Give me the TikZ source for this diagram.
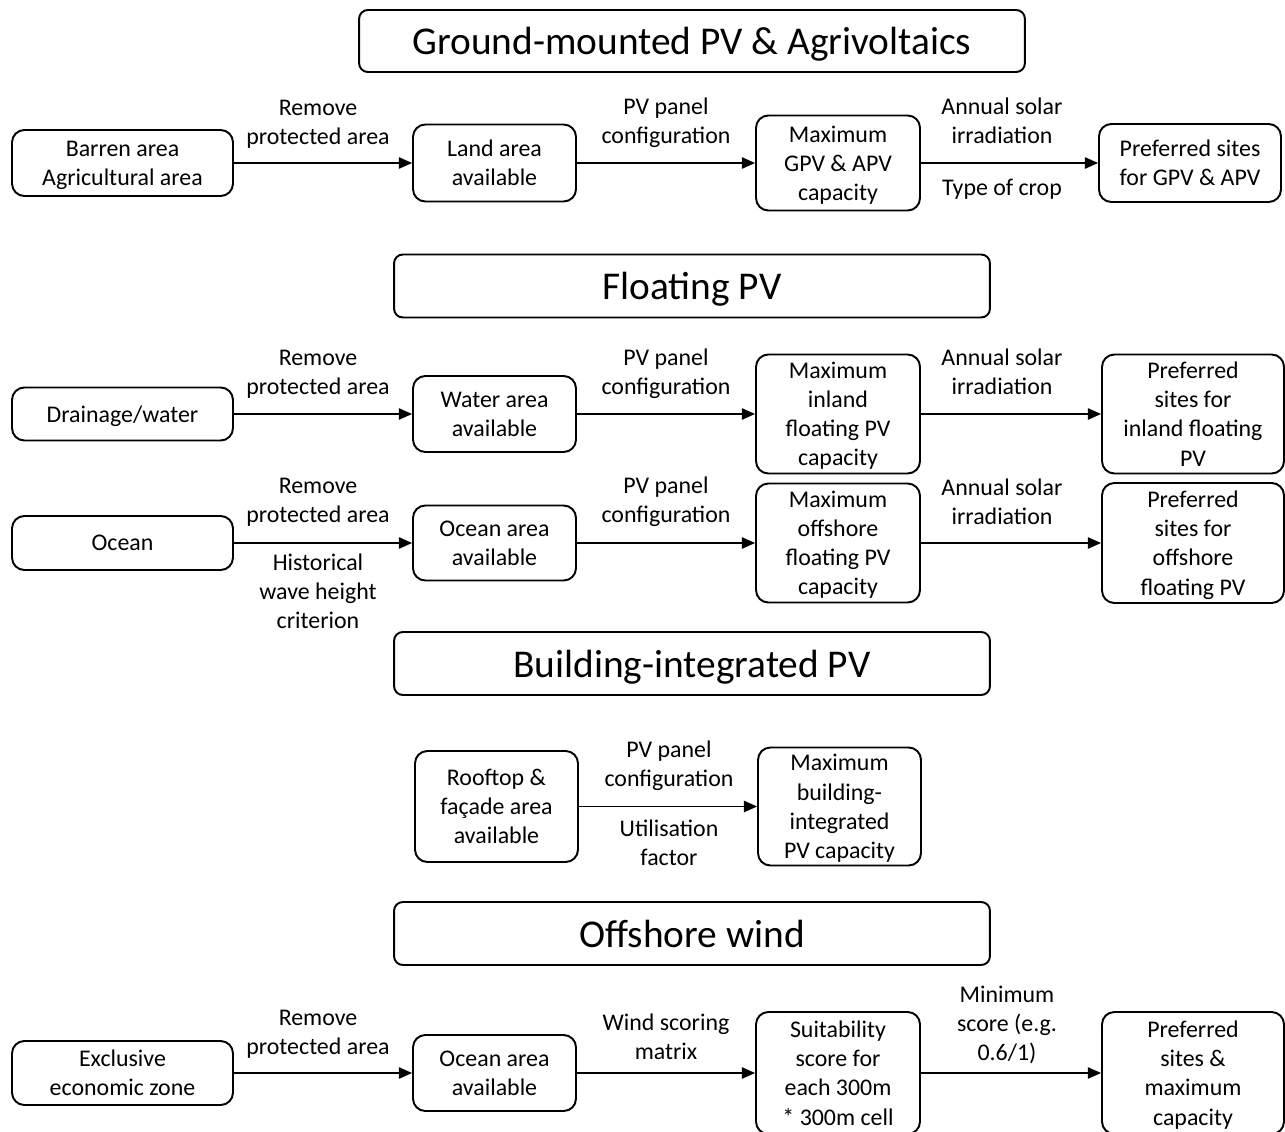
\documentclass[tikz,border=0pt]{standalone}
\usepackage{fontspec}
\setmainfont{Carlito}
\usetikzlibrary{arrows.meta}

\tikzset{
  box/.style={draw, line width=1.1pt, rounded corners=7pt, align=center, inner sep=0pt,
    text depth=0pt, font=\fontsize{13.6}{16.6}\selectfont},
  titlebox/.style={draw, line width=1.1pt, rounded corners=5pt, inner sep=0pt,
    text depth=0pt, font=\fontsize{22.4}{26}\selectfont},
  lbl/.style={align=center, inner sep=0pt, text depth=0pt, font=\fontsize{13.6}{16.6}\selectfont},
  flow/.style={line width=0.7pt, -{Triangle[length=7.5pt,width=6.5pt]}}
}

\begin{document}
\begin{tikzpicture}[x=0.02cm, y=-0.02cm]
\useasboundingbox (0,0) rectangle (1285,1132);

% Ground-mounted PV
\node[titlebox, minimum width=13.32cm, minimum height=1.24cm] (ttlg) at (692,41) {Ground-mounted PV \& Agrivoltaics};
\node[box, minimum width=4.42cm, minimum height=1.32cm] (barren) at (122.5,163) {Barren area\\Agricultural area};
\node[box, minimum width=3.26cm, minimum height=1.54cm] (land) at (494.5,163) {Land area\\available};
\node[box, minimum width=3.28cm, minimum height=1.90cm] (gmax) at (838,163) {Maximum\\GPV \& APV\\capacity};
\node[box, minimum width=3.64cm, minimum height=1.56cm] (gsites) at (1190,163) {Preferred sites\\for GPV \& APV};
\draw[flow] (barren) -- (land);
\draw[flow] (land) -- (gmax);
\draw[flow] (gmax) -- (gsites);
\node[lbl] (gl1) at (318,122) {Remove\\protected area};
\node[lbl] (gl2) at (666,121) {PV panel\\configuration};
\node[lbl] (gl3) at (1002,121) {Annual solar\\irradiation};
\node[lbl] (gl4) at (1002,187) {Type of crop};

% Floating PV
\node[titlebox, minimum width=11.92cm, minimum height=1.26cm] (ttlf) at (692,286) {Floating PV};
\node[box, minimum width=4.42cm, minimum height=1.06cm] (drain) at (122.5,414) {Drainage/water};
\node[box, minimum width=3.26cm, minimum height=1.52cm] (water) at (494.5,414) {Water area\\available};
\node[box, minimum width=3.28cm, minimum height=2.38cm] (imax) at (838,414) {Maximum\\inland\\floating PV\\capacity};
\node[box, minimum width=3.64cm, minimum height=2.38cm] (isites) at (1193,414) {Preferred\\sites for\\inland floating\\PV};
\draw[flow] (drain) -- (water);
\draw[flow] (water) -- (imax);
\draw[flow] (imax) -- (isites);
\node[lbl] (il1) at (318,372) {Remove\\protected area};
\node[lbl] (il2) at (666,372) {PV panel\\configuration};
\node[lbl] (il3) at (1002,372) {Annual solar\\irradiation};

\node[box, minimum width=4.42cm, minimum height=1.08cm] (ocean) at (122.5,543) {Ocean};
\node[box, minimum width=3.26cm, minimum height=1.50cm] (oarea) at (494.5,543) {Ocean area\\available};
\node[box, minimum width=3.28cm, minimum height=2.38cm] (omax) at (838,543) {Maximum\\offshore\\floating PV\\capacity};
\node[box, minimum width=3.64cm, minimum height=2.40cm] (osites) at (1193,543) {Preferred\\sites for\\offshore\\floating PV};
\draw[flow] (ocean) -- (oarea);
\draw[flow] (oarea) -- (omax);
\draw[flow] (omax) -- (osites);
\node[lbl] (ol1) at (318,500) {Remove\\protected area};
\node[lbl] (ol2) at (666,500) {PV panel\\configuration};
\node[lbl] (ol3) at (1002,502) {Annual solar\\irradiation};
\node[lbl] (ol4) at (318,591) {Historical\\wave height\\criterion};

% Building-integrated PV
\node[titlebox, minimum width=11.92cm, minimum height=1.26cm] (ttlb) at (692,663.5) {Building-integrated PV};
\node[box, minimum width=3.26cm, minimum height=2.22cm] (roof) at (496.5,806.5) {Rooftop \&\\façade area\\available};
\node[box, minimum width=3.26cm, minimum height=2.36cm] (bmax) at (839.5,806.5) {Maximum\\building-\\integrated\\PV capacity};
\draw[flow] (roof) -- (bmax);
\node[lbl] (bl1) at (669,764) {PV panel\\configuration};
\node[lbl] (bl2) at (669,843) {Utilisation\\factor};

% Offshore wind
\node[titlebox, minimum width=11.92cm, minimum height=1.26cm] (ttlw) at (692,933.5) {Offshore wind};
\node[box, minimum width=4.42cm, minimum height=1.28cm] (eez) at (122.5,1073) {Exclusive\\economic zone};
\node[box, minimum width=3.26cm, minimum height=1.52cm] (warea) at (494.5,1073) {Ocean area\\available};
\node[box, minimum width=3.28cm, minimum height=2.44cm] (score) at (838,1073) {Suitability\\score for\\each 300m\\* 300m cell};
\node[box, minimum width=3.64cm, minimum height=2.44cm] (wsites) at (1193,1073) {Preferred\\sites \&\\maximum\\capacity};
\draw[flow] (eez) -- (warea);
\draw[flow] (warea) -- (score);
\draw[flow] (score) -- (wsites);
\node[lbl] (wl1) at (318,1032) {Remove\\protected area};
\node[lbl] (wl2) at (666,1037) {Wind scoring\\matrix};
\node[lbl] (wl3) at (1007,1023) {Minimum\\score (e.g.\\0.6/1)};
\end{tikzpicture}
\end{document}
